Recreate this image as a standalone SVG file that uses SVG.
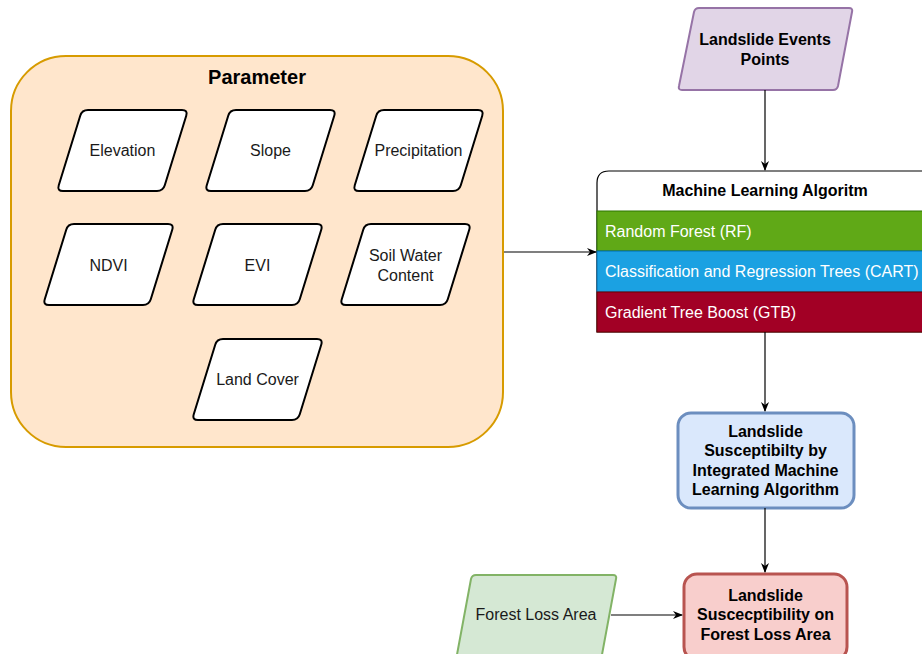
<svg xmlns="http://www.w3.org/2000/svg" xmlns:xlink="http://www.w3.org/1999/xlink" width="922" height="654" viewBox="0 0 922 654">
<style>
text{font-family:"Liberation Sans",Arial,sans-serif;}
.t{font-size:16px;fill:#1a1a1a;text-anchor:middle;}
.b{font-size:16px;font-weight:bold;fill:#000;text-anchor:middle;}
.w{font-size:16px;fill:#fff;}
.para{fill:#fff;stroke:#000;stroke-width:2;}
.edge{stroke:#000;stroke-width:1.2;fill:none;}
</style>
<defs>
<path id="para" d="M31,0 L125,0 Q131,0 129.23,5.73 L107.77,75.27 Q106,81 100,81 L6,81 Q0,81 1.77,75.27 L23.23,5.73 Q25,0 31,0 Z"/>
<marker id="arr" viewBox="0 0 10 10" refX="9" refY="5" markerWidth="10" markerHeight="10" markerUnits="userSpaceOnUse" orient="auto">
<path d="M0,1 L10,5 L0,9 L3,5 Z" fill="#000"/>
</marker>
</defs>

<g id="parameter">
<rect x="11" y="56" width="492" height="391" rx="55" ry="55" fill="#ffe6cc" stroke="#d79b00" stroke-width="2"/>
<text x="257" y="84" style="font-size:20px;font-weight:bold;text-anchor:middle;fill:#000">Parameter</text>
</g>
<g id="elevation"><use xlink:href="#para" x="57" y="110" class="para"/><text class="t" x="122.5" y="156">Elevation</text></g>
<g id="slope"><use xlink:href="#para" x="205" y="110" class="para"/><text class="t" x="270.5" y="156">Slope</text></g>
<g id="precipitation"><use xlink:href="#para" x="353" y="110" class="para"/><text class="t" x="418.5" y="156">Precipitation</text></g>
<g id="ndvi"><use xlink:href="#para" x="43" y="224" class="para"/><text class="t" x="108.5" y="271">NDVI</text></g>
<g id="evi"><use xlink:href="#para" x="192" y="224" class="para"/><text class="t" x="257.5" y="271">EVI</text></g>
<g id="soilwater"><use xlink:href="#para" x="340" y="224" class="para"/><text class="t" x="405.5" y="261">Soil Water</text><text class="t" x="405.5" y="281">Content</text></g>
<g id="landcover"><use xlink:href="#para" x="192" y="339" class="para"/><text class="t" x="257.5" y="385">Land Cover</text></g>

<g id="events">
<path d="M699,8 L849,8 Q853,8 852,12 L838,86 Q837,90 833,90 L682,90 Q678,90 679,86 L694,12 Q695,8 699,8 Z" fill="#e1d5e7" stroke="#9673a6" stroke-width="2"/>
<text class="b" x="765" y="45">Landslide Events</text>
<text class="b" x="765" y="65">Points</text>
</g>

<g id="ml">
<path d="M597,332 L597,183 Q597,171 609,171 L933,171 L933,332 Z" fill="#fff" stroke="#000" stroke-width="1.2"/>
<text x="765" y="196" style="font-size:16px;font-weight:bold;text-anchor:middle;fill:#000">Machine Learning Algoritm</text>
<rect x="597" y="211" width="336" height="40" fill="#60a917" stroke="#2d7600" stroke-width="1"/>
<text class="w" x="605" y="236.5">Random Forest (RF)</text>
<rect x="597" y="251" width="336" height="41" fill="#1ba1e2" stroke="#006eaf" stroke-width="1"/>
<text class="w" x="605" y="277">Classification and Regression Trees (CART)</text>
<rect x="597" y="292" width="336" height="40" fill="#a20025" stroke="#6f0000" stroke-width="1"/>
<text class="w" x="605" y="317.5">Gradient Tree Boost (GTB)</text>
</g>

<g id="integrated">
<rect x="678" y="413" width="176" height="95" rx="13" ry="13" fill="#dae8fc" stroke="#6c8ebf" stroke-width="3"/>
<text class="b" x="765.5" y="437">Landslide</text>
<text class="b" x="765.5" y="456">Susceptibilty by</text>
<text class="b" x="765.5" y="476">Integrated Machine</text>
<text class="b" x="765.5" y="495">Learning Algorithm</text>
</g>

<g id="forestloss">
<path d="M476,575 L613,575 Q617,575 616,579 L601,660 L456,660 L471,579 Q472,575 476,575 Z" fill="#d5e8d4" stroke="#82b366" stroke-width="2"/>
<text class="t" x="536" y="620">Forest Loss Area</text>
</g>

<g id="result">
<rect x="684" y="574" width="163" height="86" rx="13" ry="13" fill="#f8cecc" stroke="#b85450" stroke-width="3"/>
<text class="b" x="765.5" y="601">Landslide</text>
<text class="b" x="765.5" y="620">Suscecptibility on</text>
<text class="b" x="765.5" y="640">Forest Loss Area</text>
</g>

<g id="connectors">
<line class="edge" x1="765" y1="90" x2="765" y2="170" marker-end="url(#arr)"/>
<line class="edge" x1="504" y1="252" x2="596" y2="252" marker-end="url(#arr)"/>
<line class="edge" x1="765" y1="332" x2="765" y2="411" marker-end="url(#arr)"/>
<line class="edge" x1="765" y1="508" x2="765" y2="572" marker-end="url(#arr)"/>
<line class="edge" x1="611" y1="615" x2="682" y2="615" marker-end="url(#arr)"/>
</g>
</svg>
